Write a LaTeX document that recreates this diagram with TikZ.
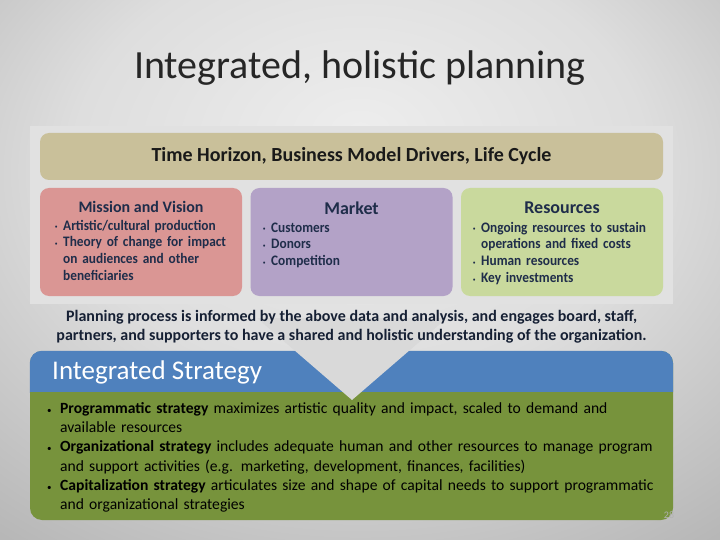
\documentclass[tikz,border=0pt]{standalone}
\usepackage{fontspec}
\setmainfont{Carlito}
\newfontfamily\narrowfont[FakeStretch=0.92]{Carlito}
\usetikzlibrary{positioning}

\definecolor{tanbar}{HTML}{C9C09A}
\definecolor{pinkbox}{HTML}{DA9694}
\definecolor{lilacbox}{HTML}{B3A2C7}
\definecolor{limebox}{HTML}{C9D99D}
\definecolor{bluebar}{HTML}{4F81BD}
\definecolor{olivebox}{HTML}{77933C}
\definecolor{navytext}{HTML}{1F2D4A}
\definecolor{panelgray}{HTML}{E1E1E1}
\definecolor{arrowgray}{HTML}{D9D9D9}

\pgfdeclareradialshading{slideshade}{\pgfpoint{0bp}{13bp}}{color(0bp)=(black!7); color(20bp)=(black!13); color(50bp)=(black!36); color(80bp)=(black!46)}

\newcommand{\boxitem}{\par\hangindent=0.55em\hangafter=1\noindent\makebox[0.55em][l]{\raisebox{0.15ex}{\tiny\textbullet}}}
\newcommand{\stratitem}{\par\hangindent=13pt\hangafter=1\noindent\makebox[13pt][l]{\small\textbullet}}
\newcommand{\nohyph}{\hyphenpenalty=10000\relax}

\begin{document}
\begin{tikzpicture}[x=1pt,y=-1pt,
	panel/.style={rounded corners=9pt,inner sep=0pt,minimum height=108pt,minimum width=202pt},
	boxtitle/.style={font=\bfseries\fontsize{18}{20}\selectfont,text=navytext,inner sep=0pt},
	boxlist/.style={font=\narrowfont\bfseries\fontsize{14.5}{16.8}\selectfont\nohyph,text=navytext,text width=182pt,align=left,inner sep=0pt,anchor=north west}]
	% background and title
	\shade[shading=slideshade] (0,0) rectangle (720,540);
	\useasboundingbox (0,0) rectangle (720,540);
	\node[font=\fontsize{40}{44}\selectfont,text=black!85] (title) at (360,68) {Integrated, holistic planning};
	\fill[panelgray] (30,126) rectangle (673,304);
	% drivers
	\node[panel,fill=tanbar,minimum width=623pt,minimum height=47pt,font=\bfseries\fontsize{20}{22}\selectfont,text=black!90] (horizon) at (351.5,156.5) {Time Horizon, Business Model Drivers, Life Cycle};
	\node[panel,fill=pinkbox] (mission) at (141,242) {};
	\node[panel,fill=lilacbox] (market) at (351.5,242) {};
	\node[panel,fill=limebox] (resources) at (562,242) {};
	\node[boxtitle,font=\bfseries\fontsize{16}{18}\selectfont] (missiontitle) at (141,207) {Mission and Vision};
	\node[boxtitle] (markettitle) at (351.5,208) {Market};
	\node[boxtitle] (resourcestitle) at (562,208) {Resources};
	\node[boxlist] (missionlist) at (55,213) {\boxitem Artistic/cultural production
		\boxitem Theory of change for impact on audiences and other beneficiaries\par};
	\node[boxlist] (marketlist) at (263,215) {\boxitem Customers
		\boxitem Donors
		\boxitem Competition\par};
	\node[boxlist] (resourceslist) at (473,215) {\boxitem Ongoing resources to sustain operations and fixed costs
		\boxitem Human resources
		\boxitem Key investments\par};
	% strategy
	\node[rounded corners=12pt,fill=olivebox,minimum width=643pt,minimum height=169pt,inner sep=0pt] (strategy) at (351.5,435.5) {};
	\fill[bluebar,rounded corners=12pt] (strategy.north west) rectangle (673,404);
	\fill[olivebox] (30,392) rectangle (673,406);
	\fill[arrowgray] (257,318) -- (447,318) -- (352,400) -- cycle;
	\node[font=\bfseries\fontsize{16}{19}\selectfont,text=navytext!70!black,align=center] (process) at (351.5,326.5) {Planning process is informed by the above data and analysis, and engages board, staff,\\partners, and supporters to have a shared and holistic understanding of the organization.};
	\node[font=\fontsize{27}{29}\selectfont,text=white,anchor=west,inner sep=0pt] (strategytitle) at (52,372) {Integrated Strategy};
	\node[font=\fontsize{15.6}{19.2}\selectfont\nohyph,text width=612pt,align=left,inner sep=0pt,anchor=north west] (strategylist) at (47,394) {\stratitem \textbf{Programmatic strategy} maximizes artistic quality and impact, scaled to demand and available resources
		\stratitem \textbf{Organizational strategy} includes adequate human and other resources to manage program and support activities (e.g. marketing, development, finances, facilities)
		\stratitem \textbf{Capitalization strategy} articulates size and shape of capital needs to support programmatic and organizational strategies\par};
	\node[font=\fontsize{10}{12}\selectfont,text=black!30] (pagenum) at (669,515) {28};
\end{tikzpicture}
\end{document}
